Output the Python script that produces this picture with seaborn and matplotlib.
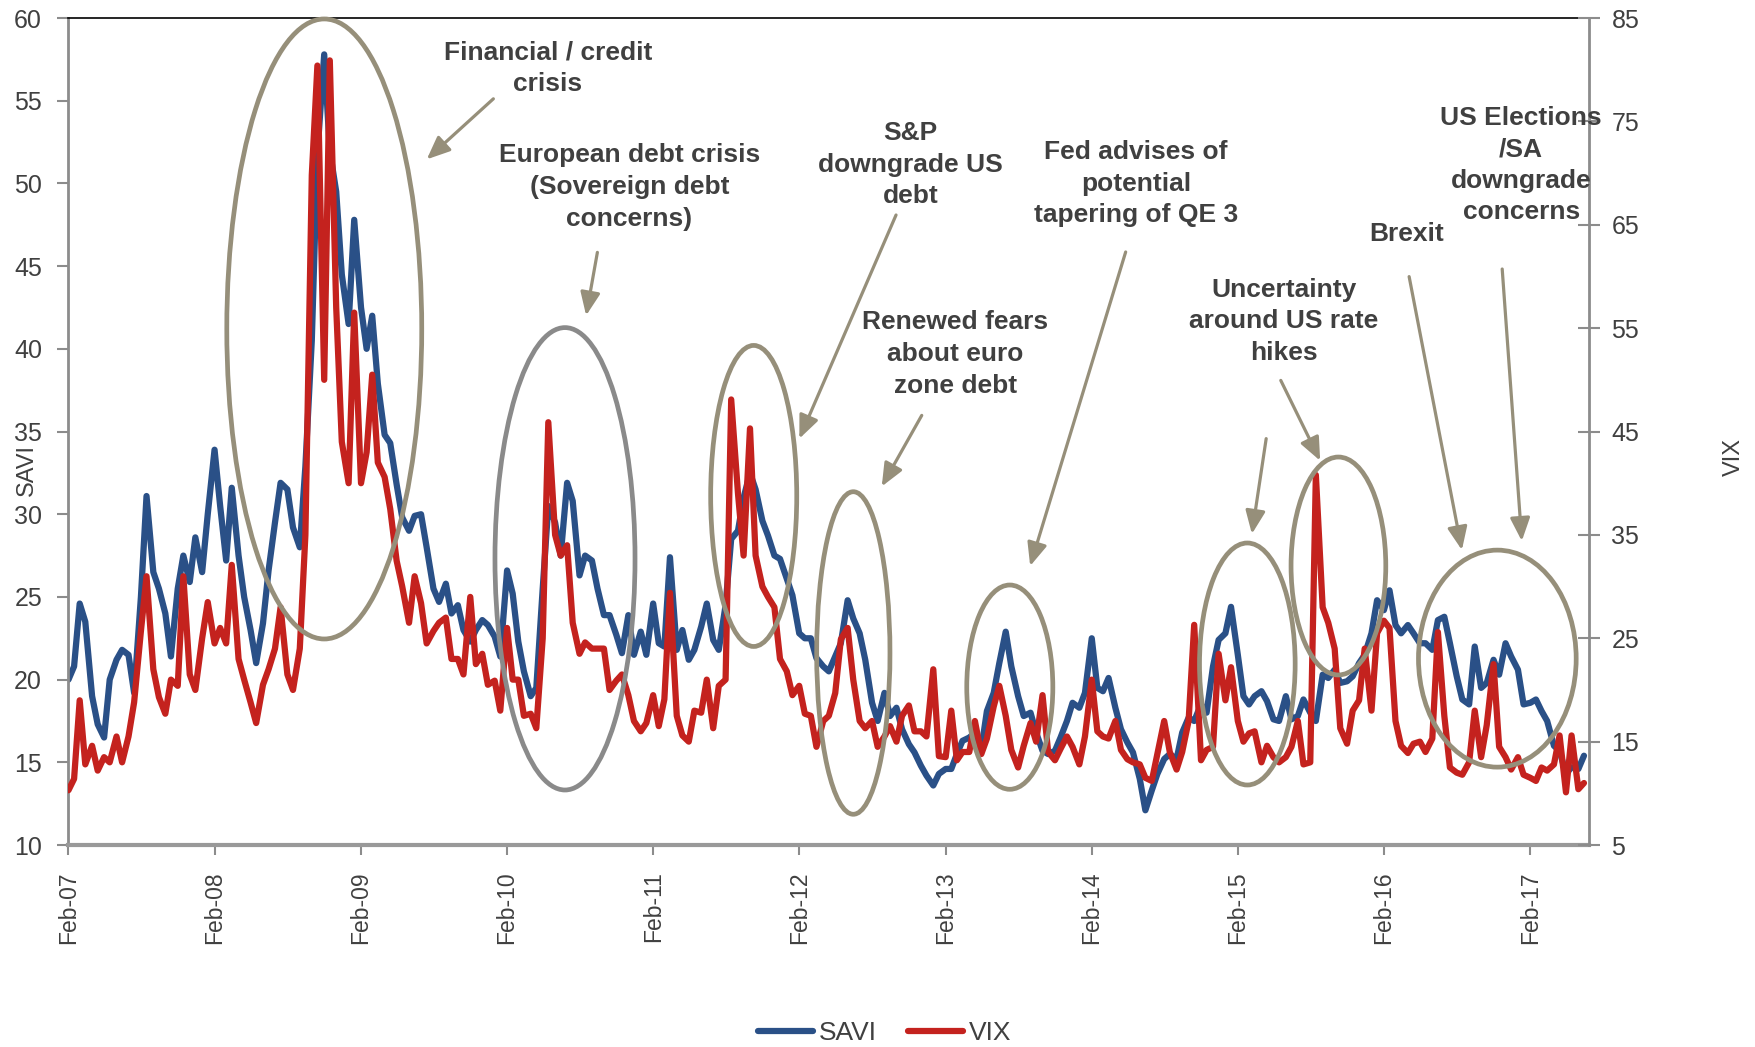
import pandas as pd
import matplotlib
matplotlib.use("Agg")
import matplotlib.pyplot as plt
import matplotlib.dates as mdates
from matplotlib.patches import Ellipse
from matplotlib.lines import Line2D
import seaborn as sns

# Fortnightly readings (1st and 15th of each month), Feb 2007 - Jun 2017
savi_2007 = [20.0, 20.8, 24.6, 23.5, 19.0, 17.3, 16.5, 20.0, 21.2, 21.8, 21.5, 19.2,
             25.0, 31.1, 26.5, 25.5, 24.0, 21.4, 25.5, 27.5, 25.9, 28.6]
savi_2008 = [26.5, 30.0, 33.9, 30.5, 27.2, 31.6, 27.5, 25.0, 23.0, 21.0, 23.4, 26.6,
             29.5, 31.9, 31.5, 29.2, 28.0, 32.9, 40.5, 51.8, 57.8, 52.0, 49.5, 44.5]
savi_2009 = [41.5, 47.8, 42.5, 40.0, 42.0, 37.9, 34.8, 34.3, 31.8, 29.8, 29.0, 29.9,
             30.0, 28.0, 25.5, 24.7, 25.8, 24.0, 24.5, 23.0, 22.3, 23.0, 23.6, 23.3]
savi_2010 = [22.6, 21.4, 26.6, 25.2, 22.3, 20.5, 19.0, 19.5, 25.5, 30.5, 29.5, 27.5,
             31.9, 30.8, 26.3, 27.5, 27.2, 25.5, 23.9, 23.9, 22.7, 21.6, 23.9, 21.5]
savi_2011 = [22.9, 21.5, 24.6, 22.2, 22.0, 27.4, 21.8, 23.0, 21.2, 21.8, 23.2, 24.6,
             22.4, 21.8, 24.5, 28.5, 29.0, 31.0, 32.5, 31.5, 29.6, 28.7, 27.5, 27.3]
savi_2012 = [26.1, 25.1, 22.8, 22.5, 22.5, 21.3, 20.8, 20.5, 21.4, 22.2, 24.8, 23.7,
             22.8, 21.2, 18.6, 17.5, 19.2, 17.8, 18.3, 17.0, 16.1, 15.6, 14.8, 14.2]
savi_2013 = [13.6, 14.3, 14.6, 14.6, 15.5, 16.3, 16.5, 16.8, 15.8, 18.1, 19.2, 21.0,
             22.9, 20.8, 19.0, 17.8, 18.0, 16.8, 15.7, 15.5, 15.7, 16.5, 17.5, 18.6]
savi_2014 = [18.3, 19.2, 22.5, 19.5, 19.3, 20.1, 18.3, 17.0, 16.2, 15.6, 14.0, 12.1,
             13.3, 14.3, 15.2, 15.5, 15.2, 16.8, 17.7, 17.5, 18.5, 18.0, 20.8, 22.4]
savi_2015 = [22.8, 24.4, 21.5, 19.0, 18.5, 19.0, 19.3, 18.7, 17.6, 17.5, 19.0, 17.6,
             17.8, 18.8, 18.0, 17.5, 20.3, 20.1, 20.6, 19.8, 19.9, 20.2, 21.0, 21.5]
savi_2016 = [22.8, 24.8, 24.2, 25.4, 23.3, 22.8, 23.3, 22.8, 22.2, 22.2, 21.8, 23.6,
             23.8, 22.2, 20.2, 18.8, 18.5, 22.0, 19.5, 19.8, 21.2, 20.3, 22.2, 21.4]
savi_2017 = [20.6, 18.5, 18.6, 18.8, 18.1, 17.5, 16.0, 15.7, 14.3, 14.7, 14.6, 15.4]

vix_2007 = [10.3, 11.4, 19.0, 12.8, 14.6, 12.2, 13.5, 13.0, 15.5, 13.0, 15.5, 18.8,
            25.7, 31.0, 22.0, 19.3, 17.7, 21.0, 20.4, 31.0, 21.5, 20.0]
vix_2008 = [25.0, 28.5, 24.5, 26.0, 24.5, 32.1, 23.0, 21.0, 18.8, 16.8, 20.5, 22.0,
            24.0, 28.0, 21.5, 20.0, 24.0, 35.0, 69.8, 80.4, 50.0, 80.9, 57.0, 44.0]
vix_2009 = [40.0, 56.5, 40.0, 43.0, 50.5, 42.0, 40.6, 37.5, 32.5, 30.0, 26.5, 31.0,
            28.4, 24.5, 25.7, 26.5, 27.0, 23.0, 23.0, 21.5, 29.0, 22.5, 23.5, 20.5]
vix_2010 = [20.9, 18.0, 26.0, 21.0, 21.0, 17.5, 17.7, 16.3, 25.0, 45.9, 35.0, 33.0,
            34.0, 26.5, 23.5, 24.6, 24.0, 24.0, 24.0, 20.0, 20.9, 21.5, 19.5, 17.0]
vix_2011 = [16.0, 16.8, 19.5, 16.5, 19.1, 29.4, 17.5, 15.6, 15.0, 18.0, 17.8, 21.0,
            16.3, 20.4, 21.0, 48.1, 39.0, 33.0, 45.3, 33.0, 30.0, 29.0, 28.0, 23.0]
vix_2012 = [21.8, 19.5, 20.4, 17.7, 17.5, 14.5, 17.0, 17.5, 19.7, 24.9, 26.0, 21.0,
            17.0, 16.3, 17.0, 14.5, 15.5, 16.5, 15.0, 17.5, 18.5, 16.0, 16.0, 15.5]
vix_2013 = [22.0, 13.6, 13.5, 18.0, 13.2, 14.0, 14.0, 17.0, 13.8, 15.3, 18.4, 20.4,
            17.5, 14.2, 12.5, 14.6, 16.8, 15.0, 19.5, 14.0, 13.2, 14.3, 15.5, 14.5]
vix_2014 = [12.8, 15.5, 21.0, 16.0, 15.5, 15.3, 17.0, 14.2, 13.3, 13.0, 12.8, 11.5,
            11.2, 13.8, 17.0, 14.0, 12.3, 14.0, 17.0, 26.3, 13.2, 14.2, 14.5, 23.5]
vix_2015 = [19.0, 22.2, 17.0, 15.0, 15.8, 16.0, 13.0, 14.6, 13.5, 13.0, 13.5, 14.5,
            17.0, 12.8, 13.0, 40.8, 28.0, 26.5, 24.0, 16.3, 14.8, 18.0, 19.0, 24.0]
vix_2016 = [18.0, 25.5, 26.7, 26.0, 17.0, 14.6, 13.9, 14.8, 15.0, 14.0, 15.3, 25.6,
            17.5, 12.5, 12.0, 11.8, 13.0, 18.0, 13.5, 16.6, 22.5, 14.5, 13.5, 12.3]
vix_2017 = [13.5, 11.8, 11.5, 11.2, 12.5, 12.2, 12.8, 15.6, 10.1, 15.6, 10.4, 11.0]

dates = pd.date_range("2007-02-01", "2017-06-15", freq="SMS")
savi = (savi_2007 + savi_2008 + savi_2009 + savi_2010 + savi_2011 + savi_2012
        + savi_2013 + savi_2014 + savi_2015 + savi_2016 + savi_2017)
vix = (vix_2007 + vix_2008 + vix_2009 + vix_2010 + vix_2011 + vix_2012
       + vix_2013 + vix_2014 + vix_2015 + vix_2016 + vix_2017)
df = pd.DataFrame({"date": dates, "SAVI": savi, "VIX": vix})

# Event annotations: text and label centre (axes fractions)
events = [
    ("Financial / credit\ncrisis", (0.3152, 0.9395)),
    ("European debt crisis\n(Sovereign debt\nconcerns)", (0.3689, 0.7956)),
    ("S&P\ndowngrade US\ndebt", (0.5538, 0.8227)),
    ("Renewed fears\nabout euro\nzone debt", (0.5833, 0.5937)),
    ("Fed advises of\npotential\ntapering of QE 3", (0.7019, 0.7996)),
    ("Uncertainty\naround US rate\nhikes", (0.7991, 0.6331)),
    ("Brexit", (0.8801, 0.7388)),
    ("US Elections\n/SA\ndowngrade\nconcerns", (0.9553, 0.8222)),
]
# arrow tail, arrow head (axes fractions)
arrows = [
    ((0.2794, 0.9023), (0.2356, 0.8291)),
    ((0.3478, 0.7166), (0.3404, 0.6403)),
    ((0.5442, 0.7618), (0.4806, 0.4914)),
    ((0.5611, 0.5195), (0.5348, 0.4336)),
    ((0.6952, 0.7171), (0.6324, 0.3374)),
    ((0.7876, 0.4914), (0.7782, 0.3762)),
    ((0.7972, 0.5618), (0.8231, 0.4647)),
    ((0.8816, 0.6873), (0.9163, 0.3567)),
    ((0.9428, 0.6965), (0.9557, 0.3676)),
]
# ellipse centre x, centre y, width, height (axes fractions), colour key
ellipses = [
    (0.1682, 0.6240, 0.1282, 0.7497, "khaki"),
    (0.3265, 0.3461, 0.0921, 0.5591, "grey"),
    (0.4506, 0.4221, 0.0566, 0.3640, "khaki"),
    (0.5161, 0.2322, 0.0482, 0.3900, "khaki"),
    (0.6190, 0.1909, 0.0566, 0.2470, "khaki"),
    (0.7752, 0.2189, 0.0629, 0.2926, "khaki"),
    (0.8351, 0.3374, 0.0623, 0.2635, "khaki"),
    (0.9396, 0.2254, 0.1037, 0.2624, "khaki"),
]

SAVI_COLOR = "#2a5087"
VIX_COLOR = "#c4221e"
KHAKI = "#968f7a"
GREY = "#8a8a8a"
AXIS_GREY = "#8c8c8c"
TEXT = "#404040"

sns.set_theme(style="white")
plt.rcParams["font.family"] = ["Liberation Sans", "DejaVu Sans"]

fig = plt.figure(figsize=(17.56, 10.47), dpi=100)
ax = fig.add_axes([0.039, 0.1929, 0.8660, 0.7899])
ax2 = ax.twinx()

line_kw = dict(lw=4.5, solid_joinstyle="round", solid_capstyle="round")
sns.lineplot(data=df, x="date", y="SAVI", ax=ax, color=SAVI_COLOR,
             estimator=None, legend=False, **line_kw)
sns.lineplot(data=df, x="date", y="VIX", ax=ax2, color=VIX_COLOR,
             estimator=None, legend=False, **line_kw)

ax.set_xlim(pd.Timestamp("2007-02-01"), pd.Timestamp("2017-06-28"))
ax.set_ylim(10, 60)
ax.set_yticks(range(10, 61, 5))
ax2.set_ylim(5, 85)
ax2.set_yticks(range(5, 86, 10))
ax.xaxis.set_major_locator(mdates.MonthLocator(bymonth=2))
ax.xaxis.set_major_formatter(mdates.DateFormatter("%b-%y"))
ax.set_xlabel("")

ax.tick_params(axis="x", bottom=True, direction="out", length=7, width=1.5,
               color=AXIS_GREY, labelsize=16.5, labelcolor=TEXT, pad=12,
               labelrotation=90)
ax.tick_params(axis="y", left=True, direction="out", length=8, width=1.5,
               color=AXIS_GREY, labelsize=18, labelcolor=TEXT, pad=11)
ax2.tick_params(axis="y", right=True, direction="inout", length=16, width=1.5,
                color=AXIS_GREY, labelsize=18, labelcolor=TEXT, pad=8)

for name in ["left", "top", "bottom"]:
    ax2.spines[name].set_visible(False)
ax.spines["right"].set_visible(False)
ax.spines["top"].set_color("black")
ax.spines["top"].set_linewidth(1.2)
ax.spines["left"].set_color(AXIS_GREY)
ax.spines["left"].set_linewidth(2)
ax.spines["bottom"].set_color("#999999")
ax.spines["bottom"].set_linewidth(3)
ax2.spines["right"].set_color(AXIS_GREY)
ax2.spines["right"].set_linewidth(2)

ax.set_ylabel("SAVI", fontsize=17, color=TEXT, va="center")
ax.yaxis.set_label_coords(-0.0273, 0.4534)
ax2.set_ylabel("VIX", fontsize=17, color=TEXT, va="center")
ax2.yaxis.set_label_coords(1.0954, 0.469)

for cx, cy, w, h, key in ellipses:
    ax2.add_patch(Ellipse((cx, cy), w, h, transform=ax2.transAxes, fill=False,
                          ec=KHAKI if key == "khaki" else GREY, lw=3.4,
                          zorder=6, clip_on=False))

for tail, head in arrows:
    ax2.annotate("", xy=head, xytext=tail, xycoords="axes fraction",
                 textcoords="axes fraction",
                 arrowprops=dict(arrowstyle="-|>,head_length=0.7,head_width=0.3",
                                 color=KHAKI, lw=2.3, mutation_scale=20,
                                 shrinkA=0, shrinkB=0),
                 zorder=6)

for label, (tx, ty) in events:
    ax2.text(tx, ty, label, transform=ax2.transAxes, ha="center", va="center",
             fontsize=19, fontweight="bold", color=TEXT, linespacing=1.4,
             multialignment="center", zorder=7)

handles = [Line2D([], [], color=SAVI_COLOR, lw=4.5, solid_capstyle="round"),
           Line2D([], [], color=VIX_COLOR, lw=4.5, solid_capstyle="round")]
fig.legend(handles, ["SAVI", "VIX"], loc="center", bbox_to_anchor=(0.5037, 0.0134),
           ncol=2, frameon=False, fontsize=19, handlelength=2.1,
           handletextpad=0.2, columnspacing=1.2, labelcolor=TEXT)

fig.savefig("out.png", dpi=100)
